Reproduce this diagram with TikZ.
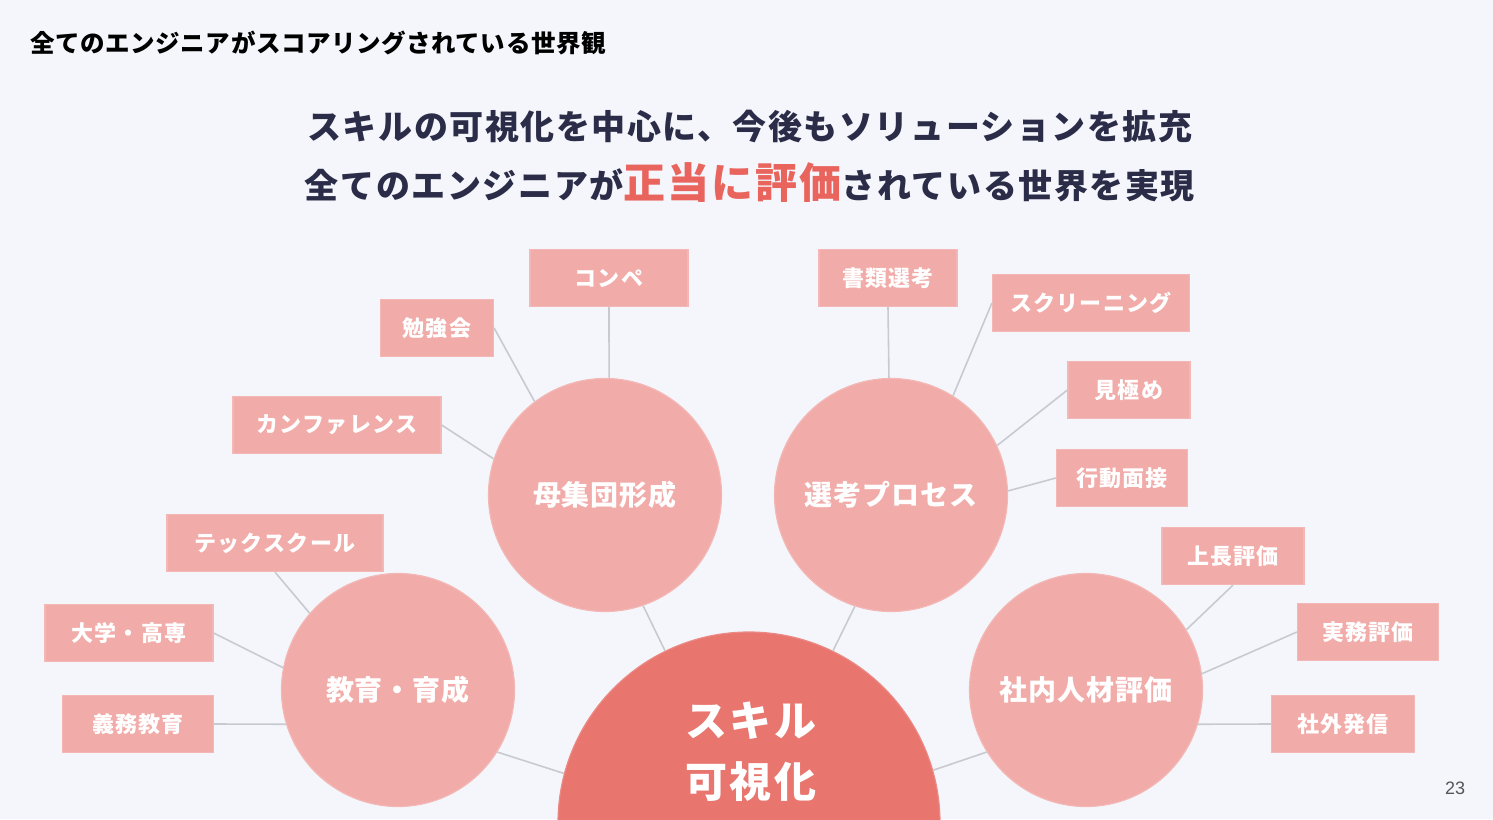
\documentclass[tikz,border=0pt]{standalone}
\usepackage{fontspec}
\setmainfont{Liberation Sans}
\newfontfamily\jp{Noto Sans CJK JP}
\definecolor{bg}{HTML}{F5F6FB}
\definecolor{pinkc}{HTML}{F1ABA8}
\definecolor{bigc}{HTML}{E8756E}
\definecolor{navy}{HTML}{2A2C48}
\definecolor{redt}{HTML}{E8645C}
\definecolor{linec}{HTML}{C9CACF}
\definecolor{pnum}{HTML}{555555}
\tikzset{
  box/.style={fill=pinkc, draw=pinkc!85!white, line width=1.2, text=white,
    font=\jp\bfseries\fontsize{22}{26}\selectfont\addfontfeatures{LetterSpace=6}, minimum height=57, inner sep=0},
  circ/.style={circle, fill=pinkc, draw=pinkc!85!white, line width=1.2, minimum size=233, inner sep=0,
    text=white, font=\jp\bfseries\fontsize{28}{32}\selectfont\addfontfeatures{LetterSpace=3.5}},
  conn/.style={draw=linec, line width=1.6},
}
\begin{document}
\begin{tikzpicture}[x=1pt,y=-1pt]
\useasboundingbox (0,0) rectangle (1493,819);
\fill[bg] (0,0) rectangle (1493,819);

% header and title
\node[anchor=west, font=\jp\bfseries\fontsize{24.5}{28}\selectfont\addfontfeatures{LetterSpace=2.3}, text=black] (hdr) at (27,43) {全てのエンジニアがスコアリングされている世界観};
\node[font=\jp\bfseries\fontsize{34}{40}\selectfont\addfontfeatures{LetterSpace=4.5}, text=navy] (t1) at (750,127) {スキルの可視化を中心に、今後もソリューションを拡充};
\node[font=\jp\bfseries\fontsize{34}{40}\selectfont\addfontfeatures{LetterSpace=4.7}, text=navy] (t2) at (750,183) {全てのエンジニアが{\color{redt}\fontsize{42}{46}\selectfont 正当に評価}されている世界を実現};

% big circle
\node[circle, fill=bigc, draw=bigc!85!white, line width=1.2, minimum size=382, inner sep=0] (big) at (749,823) {};
\node[text=white, font=\jp\bfseries\fontsize{42}{61}\selectfont\addfontfeatures{LetterSpace=5.5}, align=center] (bigtxt) at (751,752) {スキル\\可視化};

% category circles
\node[circ] (c1) at (605,495) {母集団形成};
\node[circ] (c2) at (891,495) {選考プロセス};
\node[circ] (c3) at (398,690) {教育・育成};
\node[circ] (c4) at (1086,690) {社内人材評価};

% boxes
\node[box, minimum width=158] (b1) at (609,278) {コンペ};
\node[box, minimum width=113] (b2) at (437,328) {勉強会};
\node[box, minimum width=208] (b3) at (337,425) {カンファレンス};
\node[box, minimum width=216] (b4) at (275,543) {テックスクール};
\node[box, minimum width=168] (b5) at (129,633) {大学・高専};
\node[box, minimum width=151] (b6) at (138,724) {義務教育};
\node[box, minimum width=138] (b7) at (888,278) {書類選考};
\node[box, minimum width=197] (b8) at (1091,303) {スクリーニング};
\node[box, minimum width=122] (b9) at (1129,390) {見極め};
\node[box, minimum width=131] (b10) at (1122,478) {行動面接};
\node[box, minimum width=142] (b11) at (1233,556) {上長評価};
\node[box, minimum width=141] (b12) at (1368,632) {実務評価};
\node[box, minimum width=143] (b13) at (1343,724) {社外発信};

% connectors
\draw[conn] (b1.south) -- (c1.88);
\draw[conn] (b2.east) -- (c1.127);
\draw[conn] (b3.east) -- (c1.162);
\draw[conn] (b4.south) -- (c3.139);
\draw[conn] (b5.east) -- (c3.169);
\draw[conn] (b6.east) -- (c3.197);
\draw[conn] (b7.south) -- (c2.91);
\draw[conn] (b8.west) -- (c2.58);
\draw[conn] (b9.west) -- (c2.25);
\draw[conn] (b10.west) -- (c2.2);
\draw[conn] (b11.south) -- (c4.31);
\draw[conn] (b12.west) -- (c4.8);
\draw[conn] (b13.west) -- (c4.-17);
\draw[conn] (c1.-71) -- (big.116);
\draw[conn] (c2.-108) -- (big.64);
\draw[conn] (c3.-32) -- (big.165);
\draw[conn] (c4.-148) -- (big.16);

\node[font=\fontsize{18}{20}\selectfont, text=pnum] (pn) at (1455,788) {23};
\end{tikzpicture}
\end{document}
